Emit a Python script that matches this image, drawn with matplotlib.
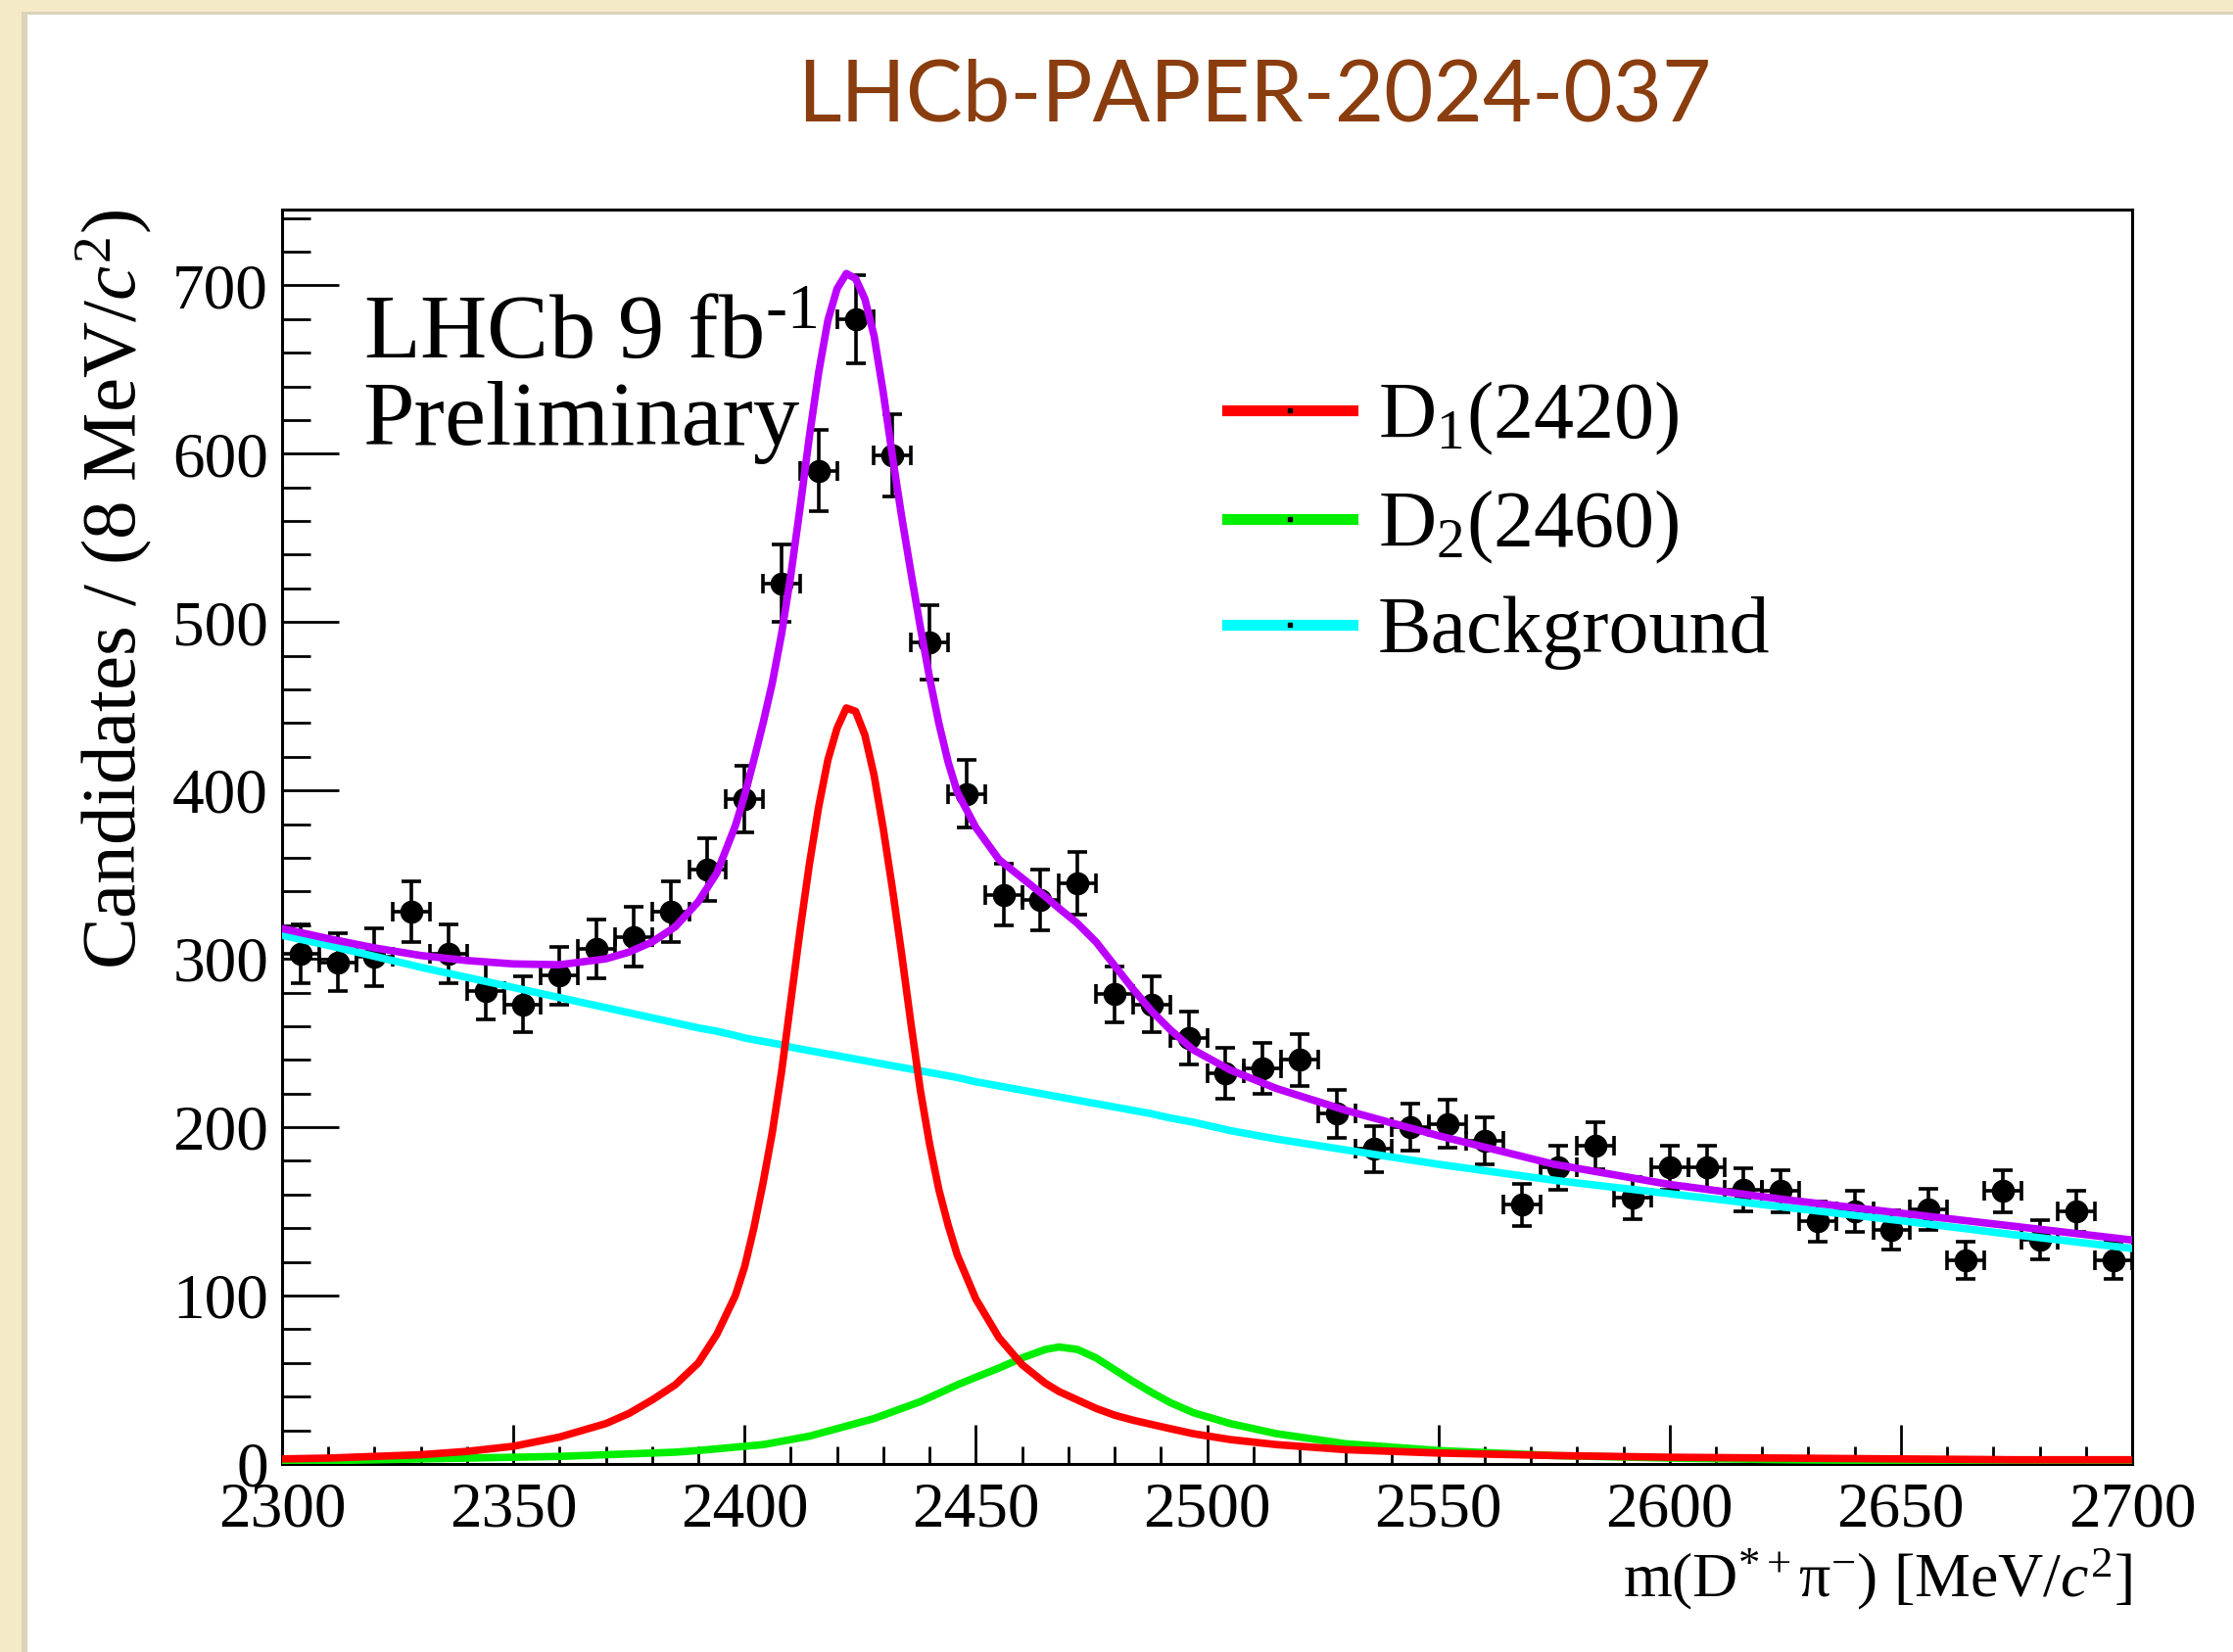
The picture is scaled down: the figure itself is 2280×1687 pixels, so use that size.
import numpy as np
import matplotlib
matplotlib.use("Agg")
import matplotlib.pyplot as plt
from matplotlib.patches import Rectangle
from matplotlib.lines import Line2D

plt.rcParams['font.family'] = ['Liberation Serif', 'DejaVu Serif']
plt.rcParams['mathtext.fontset'] = 'custom'
plt.rcParams['mathtext.rm'] = 'Liberation Serif'
plt.rcParams['mathtext.it'] = 'Liberation Serif:italic'
plt.rcParams['mathtext.bf'] = 'Liberation Serif:bold'

# ---------------- data ----------------
bin_width = 8
bin_centers = np.arange(2304, 2700, bin_width)
counts = [303, 298, 301, 328, 303, 281, 273, 290, 306, 313,
          328, 353, 395, 523, 590, 680, 599, 488, 398, 338,
          335, 345, 279, 273, 253, 232, 235, 240, 208, 187,
          200, 202, 192, 154, 176, 189, 158, 176, 176, 163,
          162, 144, 150, 139, 151, 121, 162, 133, 150, 121]

fit_mass = [2300, 2310, 2320, 2330, 2340, 2350, 2360, 2370, 2375, 2380,
            2385, 2390, 2394, 2398, 2400, 2402, 2404, 2406, 2408, 2410,
            2412, 2414, 2416, 2418, 2420, 2422, 2424, 2426, 2428, 2430,
            2432, 2434, 2436, 2438, 2440, 2442, 2444, 2446, 2450, 2455,
            2460, 2465, 2468, 2472, 2476, 2480, 2484, 2488, 2492, 2497,
            2505, 2515, 2530, 2550, 2575, 2600, 2625, 2650, 2675, 2700]

d1_2420 = [3, 3.5, 4.5, 5.5, 7.5, 10.5, 16, 24, 30, 38,
           47, 60, 77, 100, 117, 140, 167, 197, 233, 275,
           317, 356, 390, 418, 437, 449, 447, 433, 409, 377,
           341, 302, 261, 222, 190, 163, 142, 124, 98, 75,
           59, 48, 43, 38, 33, 29, 26, 23.5, 21, 18,
           14.5, 11.5, 8.5, 6.5, 5, 4, 3.5, 3, 2.5, 2.5]

d2_2460 = [2, 2, 2.5, 3, 3.5, 4, 4.5, 5.5, 6, 6.5,
           7, 8, 9, 10, 10.5, 11, 11.5, 12.5, 13.5, 14.5,
           15.5, 16.5, 18, 19.5, 21, 22.5, 24, 25.5, 27, 29,
           31, 33, 35, 37, 39.5, 42, 44.5, 47, 51.5, 57,
           63, 68, 69.5, 68, 63, 56, 49, 42.5, 36.5, 30.5,
           24, 18, 12, 8, 5, 3.5, 2.5, 2, 1.5, 1.5]

background = [314, 308, 301.5, 295, 289, 283, 277, 271, 268, 265,
              262, 259, 257, 254.5, 253, 252, 251, 250, 249, 247.5,
              246.5, 245.5, 244.5, 243.5, 242.5, 241.5, 240.5, 239.5, 238.5, 237.5,
              236.5, 235.5, 234.5, 233.5, 232.5, 231.5, 230.5, 229.5, 227, 224.5,
              222, 219.5, 218, 216, 214, 212, 210, 208, 205.5, 203,
              198, 193, 186.5, 178, 168.5, 160.5, 152.5, 144.5, 136, 128]

total_fit = [318, 312, 306.5, 302, 299, 297, 296.5, 300, 304, 310,
             319, 334, 351, 379, 397, 418, 440, 464, 493, 528,
             568, 610, 648, 679, 698, 707, 704, 692, 670, 636,
             598, 562, 529, 497, 467, 440, 417, 399, 378, 359,
             348, 337, 330, 321, 310, 296, 282, 269, 258, 246,
             234, 223, 210, 195, 178, 166, 157, 149, 141, 133]

legend_labels = ["D$_1$(2420)", "D$_2$(2460)", "Background"]
y_ticks = [0, 100, 200, 300, 400, 500, 600, 700]
x_ticks = [2300, 2350, 2400, 2450, 2500, 2550, 2600, 2650, 2700]

# ---------------- figure ----------------
W, H = 2280, 1687
fig = plt.figure(figsize=(W / 100, H / 100), dpi=100)
fig.patch.set_facecolor('#F4EAC8')
fig.add_artist(Rectangle((22 / W, 0), 1, 1 - 12 / H, transform=fig.transFigure,
                         facecolor='#DCD3B8', edgecolor='none', zorder=-2))
fig.add_artist(Rectangle((28 / W, 0), 1, 1 - 15 / H, transform=fig.transFigure,
                         facecolor='white', edgecolor='none', zorder=-1))

fig.text(1281 / W, 1 - 124 / H, "LHCb-PAPER-2024-037", family=['Lato', 'DejaVu Sans'],
         fontsize=62.5, color='#8A3D0E', ha='center', va='baseline')

ax = fig.add_axes([288 / W, 1 - 1495 / H, (2177 - 288) / W, (1495 - 214) / H])
ax.set_facecolor('white')

counts_arr = np.array(counts, dtype=float)
ax.errorbar(bin_centers, counts_arr, yerr=np.sqrt(counts_arr), xerr=bin_width / 2,
            fmt='o', color='black', ms=16, elinewidth=2.6, capsize=7, capthick=2.6,
            zorder=2)

lw = 5.5
ax.plot(fit_mass, background, color='#00FFFF', lw=lw, zorder=3)
ax.plot(fit_mass, d2_2460, color='#00EE00', lw=lw, zorder=4)
ax.plot(fit_mass, d1_2420, color='#FF0000', lw=lw, zorder=5)
ax.plot(fit_mass, total_fit, color='#BB00FF', lw=lw, zorder=6)

ax.set_xlim(2300, 2700)
ax.set_ylim(0, 745)
ax.set_xticks(x_ticks)
ax.set_xticks(np.arange(2300, 2701, 10), minor=True)
ax.set_yticks(y_ticks)
ax.set_yticks(np.arange(0, 745, 20), minor=True)
ax.set_xticklabels([str(v) for v in x_ticks])
ax.set_yticklabels([str(v) for v in y_ticks])

for s in ax.spines.values():
    s.set_linewidth(2.2)
ax.tick_params(axis='both', which='both', direction='in', top=False, right=False,
               width=2.0, labelsize=47)
ax.tick_params(axis='y', which='major', length=42, pad=10)
ax.tick_params(axis='y', which='minor', length=21)
ax.tick_params(axis='x', which='major', length=29, pad=13)
ax.tick_params(axis='x', which='minor', length=13)

ax.set_ylabel("Candidates / (8 MeV/$c^2$)", fontsize=57, loc='top')
ax.yaxis.set_label_coords(-0.069, 1.0)
ax.set_xlabel("m(D$^{*+}$π$^{-}$) [MeV/$c^2$]", fontsize=46, loc='right')
ax.xaxis.set_label_coords(1.0, -0.066)

ax.text(0.0438, 0.881, r"LHCb 9 fb$^{\text{-}1}$", transform=ax.transAxes,
        fontsize=68, ha='left', va='baseline', zorder=7)
ax.text(0.0438, 0.813, "Preliminary", transform=ax.transAxes,
        fontsize=68, ha='left', va='baseline', zorder=7)

handles = [Line2D([], [], color=c, lw=8, marker='s', ms=3, mfc='black', mec='black')
           for c in ['#FF0000', '#00EE00', '#00FFFF']]
leg = ax.legend(handles, legend_labels, loc='upper left', bbox_to_anchor=(0.5108, 0.864),
                frameon=False, fontsize=59, borderpad=0, borderaxespad=0,
                handlelength=1.56, handletextpad=0.32, labelspacing=0.38)

fig.savefig("out.png", dpi=100, facecolor=fig.get_facecolor())
